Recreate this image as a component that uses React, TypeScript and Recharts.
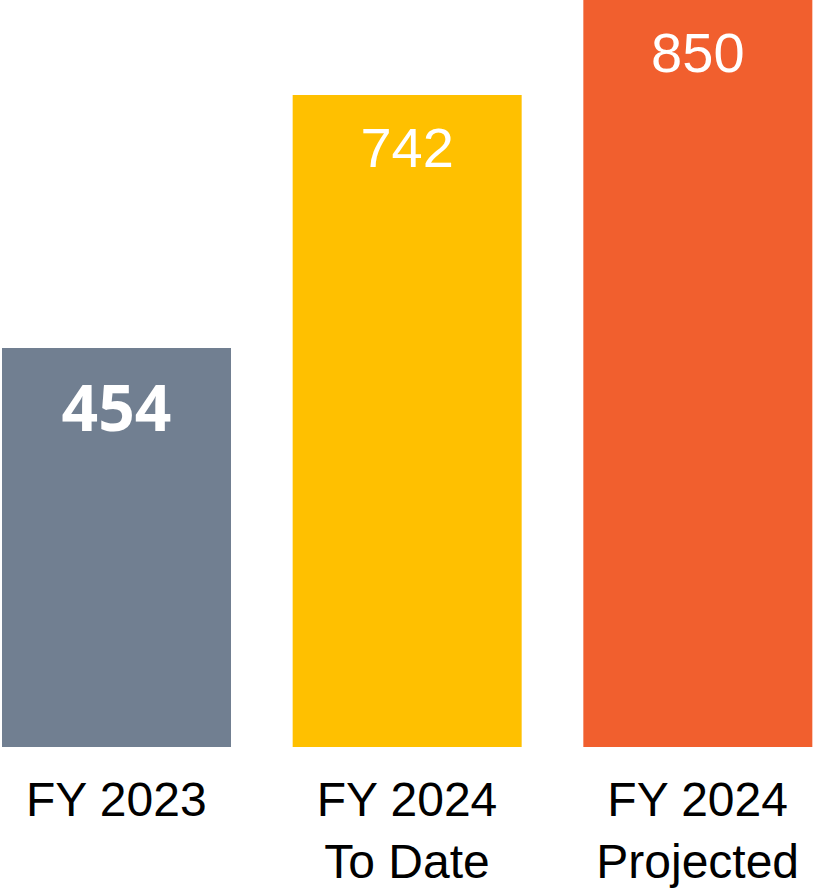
import React from "react";
import { Bar, BarChart, Cell, LabelList, XAxis, YAxis } from "recharts";

const categories = ["FY 2023", "FY 2024\nTo Date", "FY 2024\nProjected"];
const values = [454, 742, 850];
const colors = ["#717F91", "#FFC000", "#F15F2E"];
const boldLabel = [true, false, false];

const data = categories.map((name, i) => ({ name, value: values[i] }));

const CategoryTick = (props: any) => {
  const { x, y, payload } = props;
  const lines = String(payload.value).split("\n");
  return (
    <g transform={`translate(${x},${y})`}>
      {lines.map((line, i) => (
        <text
          key={i}
          x={0}
          y={61 + i * 62}
          textAnchor="middle"
          fill="#000"
          fontFamily="Liberation Sans, Arial, sans-serif"
          fontSize={48}
        >
          {line}
        </text>
      ))}
    </g>
  );
};

const ValueLabel = (props: any) => {
  const { x, y, width, value, index } = props;
  const bold = boldLabel[index];
  return (
    <text
      x={x + width / 2}
      y={y + (bold ? 83 : 72)}
      textAnchor="middle"
      fill="#fff"
      fontFamily={bold ? "Open Sans, sans-serif" : "Liberation Sans, Arial, sans-serif"}
      fontWeight={bold ? 700 : 400}
      fontSize={bold ? 64 : 56}
    >
      {value}
    </text>
  );
};

export default function App() {
  return (
    <div style={{ position: "absolute", left: 0, top: 0 }}>
      <BarChart
        width={815}
        height={889}
        data={data}
        margin={{ top: 0, right: 0, bottom: 0, left: 0 }}
      >
        <XAxis
          dataKey="name"
          axisLine={false}
          tickLine={false}
          height={142}
          interval={0}
          padding={{ left: -29, right: -28 }}
          tick={<CategoryTick />}
        />
        <YAxis hide domain={[0, 850]} />
        <Bar dataKey="value" barSize={229} isAnimationActive={false}>
          {data.map((_, i) => (
            <Cell key={i} fill={colors[i]} />
          ))}
          <LabelList dataKey="value" content={<ValueLabel />} />
        </Bar>
      </BarChart>
    </div>
  );
}
